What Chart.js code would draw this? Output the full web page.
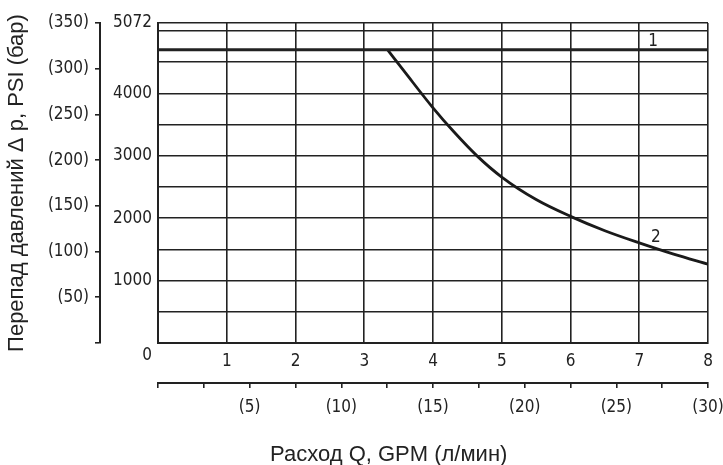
<!DOCTYPE html>
<html><head><meta charset="utf-8">
<script src="https://cdn.jsdelivr.net/npm/chart.js@4.4.1/dist/chart.umd.min.js"></script>
<style>html,body{margin:0;padding:0;background:#fff}#wrap{width:723px;height:465px}</style>
</head><body><div id="wrap"><canvas id="c" width="723" height="465"></canvas></div>
<script>
// ---- data ----
const gpmTicks = [0, 1, 2, 3, 4, 5, 6, 7, 8];
const lpmTicks = [0, 2.5, 5, 7.5, 10, 12.5, 15, 17.5, 20, 22.5, 25, 27.5, 30];
const lpmLabelTicks = [5, 10, 15, 20, 25, 30];
const barTicks = [0, 50, 100, 150, 200, 250, 300, 350];
const psiGridTicks = [0, 500, 1000, 1500, 2000, 2500, 3000, 3500, 4000, 4500, 5000];
const psiLabelTicks = [1000, 2000, 3000, 4000];
const psiTop = 5130;
const psiTopLabel = '5072';
const curve1Gpm = [0, 8];
const curve1Psi = [4700, 4700];
const curve2Gpm = [3.34, 3.60, 4.00, 4.30, 4.64, 5.00, 5.50, 6.00, 6.50, 7.00, 7.50, 8.00];
const curve2Psi = [4700, 4330, 3770, 3390, 3000, 2660, 2300, 2030, 1800, 1605, 1425, 1265];
const curveNames = ['1', '2'];
const curveNameGpm = [7.2, 7.24];
const curveNamePsi = [4840, 1694];
const xTitle = 'Расход Q, GPM (л/мин)';
const yTitle = 'Перепад давлений Δ p, PSI (бар)';

// ---- styles ----
const INK = '#222';
const tickFont = { family: "'DejaVu Sans Condensed','DejaVu Sans',sans-serif", size: 17 };
const titleFont = "22px 'Liberation Sans', Arial, sans-serif";

const toPts = (xs, ys) => xs.map((x, i) => ({ x, y: ys[i] }));
const noSidePad = s => { s.paddingLeft = 0; s.paddingRight = 0; };

const extras = {
  id: 'extras',
  afterDraw(chart) {
    const { ctx, scales } = chart;
    const x = scales.x, y = scales.psi;
    ctx.save();
    ctx.fillStyle = INK;
    ctx.font = tickFont.size + "px " + tickFont.family;
    ctx.textAlign = 'center';
    ctx.textBaseline = 'middle';
    curveNames.forEach((t, i) => {
      ctx.fillText(t, x.getPixelForValue(curveNameGpm[i]), y.getPixelForValue(curveNamePsi[i]));
    });
    // origin label
    ctx.fillText('0', x.getPixelForValue(0) - 11, y.getPixelForValue(0) + 13);
    // bottom title
    ctx.font = titleFont;
    ctx.textAlign = 'left';
    ctx.textBaseline = 'alphabetic';
    ctx.fillText(xTitle, x.left + 112, chart.height - 4);
    ctx.restore();
  }
};

new Chart(document.getElementById('c'), {
  type: 'scatter',
  data: {
    datasets: [
      { data: toPts(curve1Gpm, curve1Psi), showLine: true, borderColor: INK, borderWidth: 3,
        pointRadius: 0, xAxisID: 'x', yAxisID: 'psi' },
      { data: toPts(curve2Gpm, curve2Psi), showLine: true, borderColor: '#1a1a1a', borderWidth: 2.8,
        pointRadius: 0, cubicInterpolationMode: 'monotone', xAxisID: 'x', yAxisID: 'psi' }
    ]
  },
  options: {
    responsive: false,
    animation: false,
    devicePixelRatio: 1,
    layout: { padding: { top: 23, right: 15, left: 0, bottom: 47 } },
    plugins: { legend: { display: false }, tooltip: { enabled: false } },
    scales: {
      x: {
        type: 'linear', position: 'bottom', weight: 0, min: 0, max: 8,
        afterBuildTicks: s => { s.ticks = gpmTicks.map(v => ({ value: v })); },
        afterFit: s => { s.height = 40; noSidePad(s); },
        ticks: { font: tickFont, color: INK, padding: 8, callback: v => (v === 0 ? '' : String(v)) },
        grid: { color: INK, lineWidth: 1.6, drawTicks: false },
        border: { color: INK, width: 2 }
      },
      lpm: {
        type: 'linear', position: 'bottom', weight: 1, min: 0, max: 30,
        afterBuildTicks: s => { s.ticks = lpmTicks.map(v => ({ value: v })); },
        afterFit: s => { s.height = 35; noSidePad(s); },
        ticks: { font: tickFont, color: INK, padding: 9,
          callback: v => (lpmLabelTicks.includes(v) ? '(' + v + ')' : '') },
        grid: { drawOnChartArea: false, drawTicks: true, tickLength: 5, color: INK, lineWidth: 1.6 },
        border: { color: INK, width: 2 }
      },
      psi: {
        type: 'linear', position: 'left', weight: 0, min: 0, max: psiTop,
        afterBuildTicks: s => { s.ticks = psiGridTicks.concat([psiTop]).map(v => ({ value: v })); },
        afterFit: s => { s.width = 58; },
        ticks: { font: tickFont, color: INK, padding: 6,
          callback: v => (v === psiTop ? psiTopLabel : (psiLabelTicks.includes(v) ? String(v) : '')) },
        grid: { color: INK, lineWidth: 1.6, drawTicks: false },
        border: { color: INK, width: 2 }
      },
      bar: {
        type: 'linear', position: 'left', weight: 1, min: 0, max: 350,
        afterBuildTicks: s => { s.ticks = barTicks.map(v => ({ value: v })); },
        afterFit: s => { s.width = 100; },
        ticks: { font: tickFont, color: INK, padding: 6,
          callback: v => (v === 0 ? '' : '(' + v + ')') },
        grid: { drawOnChartArea: false, drawTicks: true, tickLength: 5, color: INK, lineWidth: 1.6 },
        border: { color: INK, width: 2 },
        title: { display: true, text: yTitle, color: INK,
          font: { family: "'Liberation Sans', Arial, sans-serif", size: 22 }, padding: { top: 4, bottom: 0 } }
      }
    }
  },
  plugins: [extras]
});
</script>
</body></html>
